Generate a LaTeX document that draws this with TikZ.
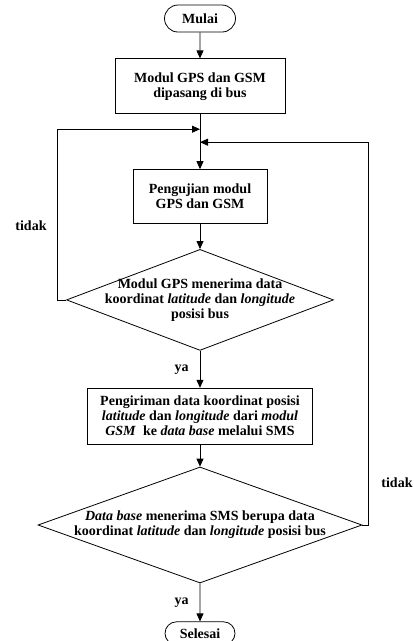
\documentclass[tikz,border=0pt]{standalone}
\usepackage{fontspec}
\setmainfont{Liberation Serif}
\usepackage{tikz}
\usetikzlibrary{arrows.meta,positioning,calc,shapes.geometric,shapes.misc}

\begin{document}
\begin{tikzpicture}[x=1pt,y=1pt,
  font=\fontsize{14}{15}\selectfont\bfseries,
  term/.style={draw,rounded rectangle,line width=0.8pt,minimum width=71pt,minimum height=27pt,inner sep=0pt},
  proc/.style={draw,line width=0.8pt,align=center,inner sep=0pt},
  decision/.style={draw,diamond,line width=0.8pt,inner sep=0pt},
  ar/.style={-{Triangle[length=8pt,width=7pt]},line width=0.8pt},
  lbl/.style={inner sep=0pt}
]
\useasboundingbox (0,0) rectangle (414,-641);
\node[term] (mulai) at (200,-18.5) {Mulai};
\node[proc,minimum width=170pt,minimum height=55pt,below=26pt of mulai] (pasang) {Modul GPS dan GSM\\dipasang di bus};
\node[proc,minimum width=134pt,minimum height=54pt,below=55pt of pasang] (uji) {Pengujian modul\\GPS dan GSM};
\node[decision,minimum width=267pt,minimum height=101pt,below=25pt of uji] (cekgps) {};
\node[align=center] (cekgpstxt) at (cekgps) {Modul GPS menerima data\\koordinat \textit{latitude} dan \textit{longitude}\\posisi bus};
\node[proc,minimum width=225pt,minimum height=56pt,below=37pt of cekgps] (kirim) {Pengiriman data koordinat posisi\\\textit{latitude} dan \textit{longitude} dari \textit{modul}\\\textit{GSM}~ ke \textit{data base} melalui SMS};
\node[decision,minimum width=324pt,minimum height=116pt,below=22pt of kirim] (ceksms) {};
\node[align=center] (ceksmstxt) at (ceksms) {\textit{Data base} menerima SMS berupa data\\koordinat \textit{latitude} dan \textit{longitude} posisi bus};
\node[term,minimum width=70pt,minimum height=23pt,below=38pt of ceksms] (selesai) {Selesai};
% titik temu loop
\coordinate (jl) at ($(pasang.south)+(0,-15)$);
\coordinate (jr) at ($(pasang.south)+(0,-28)$);
\draw[ar] (mulai) -- (pasang);
\draw[line width=0.8pt] (pasang) -- (jl);
\draw[ar] (jl) -- (uji);
\draw[ar] (uji) -- (cekgps);
\draw[ar] (cekgps) -- node[lbl,midway,left=11pt] (ya1) {ya} (kirim);
\draw[ar] (kirim) -- (ceksms);
\draw[ar] (ceksms) -- node[lbl,midway,left=11pt] (ya2) {ya} (selesai);
\draw[ar] (cekgps.west) -- ++(-9,0) |- (jl);
\draw[ar] (ceksms.east) -- ++(6,0) |- (jr);
\node[lbl] (tidak1) at (31,-226) {tidak};
\node[lbl] (tidak2) at (397,-483) {tidak};
\end{tikzpicture}
\end{document}
